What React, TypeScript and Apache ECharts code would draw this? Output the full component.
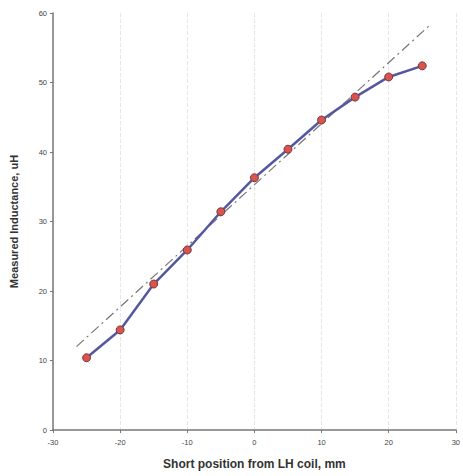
import React, { useEffect, useRef } from "react";
import * as echarts from "echarts";

const positions = [-25, -20, -15, -10, -5, 0, 5, 10, 15, 20, 25];
const inductance = [10.4, 14.4, 21.0, 25.9, 31.4, 36.3, 40.4, 44.6, 47.9, 50.8, 52.4];
const trendX = [-26.5, 26.3];
const trendY = [12.0, 58.4];
const xTitle = "Short position from LH coil, mm";
const yTitle = "Measured Inductance, uH";

export default function App() {
  const ref = useRef<HTMLDivElement>(null);
  useEffect(() => {
    const chart = echarts.init(ref.current!, null, { renderer: "svg" });
    chart.setOption({
      animation: false,
      backgroundColor: "#ffffff",
      grid: { left: 51, right: 1, top: 13, bottom: 46 },
      xAxis: {
        type: "value",
        min: -30,
        max: 30,
        interval: 10,
        name: xTitle,
        nameLocation: "middle",
        nameGap: 28,
        nameTextStyle: { fontFamily: "Liberation Sans", fontWeight: "bold", fontSize: 12, color: "#333" },
        axisLine: { onZero: false, lineStyle: { color: "#777", width: 1.5 } },
        axisTick: { show: true, length: 3, lineStyle: { color: "#777" } },
        axisLabel: { fontFamily: "Liberation Sans", fontSize: 7.5, color: "#444", margin: 8 },
        splitLine: { show: true, lineStyle: { color: "#e6e6e6", type: "dashed", width: 1 } },
      },
      yAxis: {
        type: "value",
        min: 0,
        max: 60,
        interval: 10,
        name: yTitle,
        nameLocation: "middle",
        nameGap: 34,
        nameTextStyle: { fontFamily: "Liberation Sans", fontWeight: "bold", fontSize: 11, color: "#333" },
        axisLine: { show: true, onZero: false, lineStyle: { color: "#777", width: 1.5 } },
        axisTick: { show: true, length: 3, lineStyle: { color: "#777" } },
        axisLabel: { fontFamily: "Liberation Sans", fontSize: 7.5, color: "#444", margin: 6 },
        splitLine: { show: false },
      },
      series: [
        {
          type: "line",
          data: trendX.map((x, i) => [x, trendY[i]]),
          symbol: "none",
          lineStyle: { color: "#777", width: 1.2, type: [10, 4, 2, 4] },
          z: 1,
        },
        {
          type: "line",
          data: positions.map((x, i) => [x, inductance[i]]),
          symbol: "circle",
          symbolSize: 8,
          lineStyle: { color: "#5558a0", width: 2.5 },
          itemStyle: { color: "#d9534f", borderColor: "#7a3a3a", borderWidth: 1 },
          z: 2,
        },
      ],
    });
    return () => chart.dispose();
  }, []);
  return <div ref={ref} style={{ width: 463, height: 476, position: "absolute", left: 0, top: 0 }} />;
}
